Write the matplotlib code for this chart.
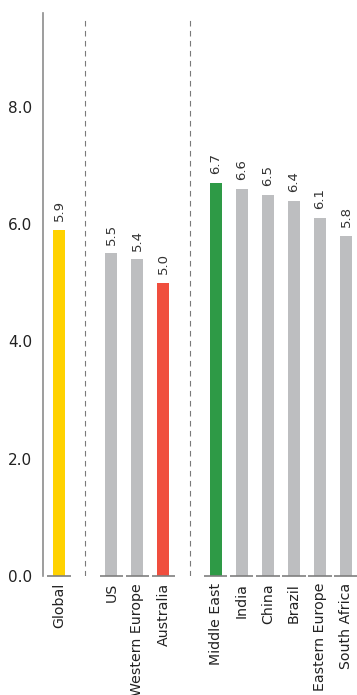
import matplotlib.pyplot as plt

categories = ["Global", "US", "Western Europe", "Australia", "Middle East",
              "India", "China", "Brazil", "Eastern Europe", "South Africa"]
values = [5.9, 5.5, 5.4, 5.0, 6.7, 6.6, 6.5, 6.4, 6.1, 5.8]
positions = [0, 2, 3, 4, 6, 7, 8, 9, 10, 11]
separators = [1, 5]
bar_colors = ["#FFD200", "#BDBEC0", "#BDBEC0", "#F04E3E", "#2E9A46",
              "#BDBEC0", "#BDBEC0", "#BDBEC0", "#BDBEC0", "#BDBEC0"]
yticks = [0.0, 2.0, 4.0, 6.0, 8.0]

fig = plt.figure(figsize=(3.57, 6.95), dpi=100)
ax = fig.add_axes([43 / 357, (695 - 576) / 695, (357 - 43) / 357, (576 - 13) / 695])

ax.bar(positions, values, width=0.46, color=bar_colors, zorder=2)

# short baseline segment under each bar
for p in positions:
    ax.plot([p - 0.45, p + 0.45], [0, 0], color="#7F7F7F", lw=1.2, zorder=3,
            solid_capstyle="butt", clip_on=False)

for s in separators:
    ax.axvline(s, ymin=0, ymax=(9.6 - 0.08) / 9.6, color="#7A7A7A", lw=0.8,
               ls=(0, (5, 4)), zorder=1)

for p, v in zip(positions, values):
    ax.text(p, v + 0.15, f"{v:.1f}", rotation=90, ha="center", va="bottom",
            fontsize=9.5, color="#333333")

ax.set_xlim(-0.62, 11.42)
ax.set_ylim(0, 9.6)
ax.set_yticks(yticks)
ax.set_yticklabels([f"{t:.1f}" for t in yticks], fontsize=11, color="#222222")
ax.set_xticks(positions)
ax.set_xticklabels(categories, rotation=90, fontsize=10.2, color="#222222")
ax.tick_params(axis="both", length=0)
ax.tick_params(axis="x", pad=5)
ax.tick_params(axis="y", pad=8)

for side in ["top", "right", "bottom"]:
    ax.spines[side].set_visible(False)
ax.spines["left"].set_color("#8C8C8C")
ax.spines["left"].set_linewidth(1.2)

fig.savefig("out.png", dpi=100)
